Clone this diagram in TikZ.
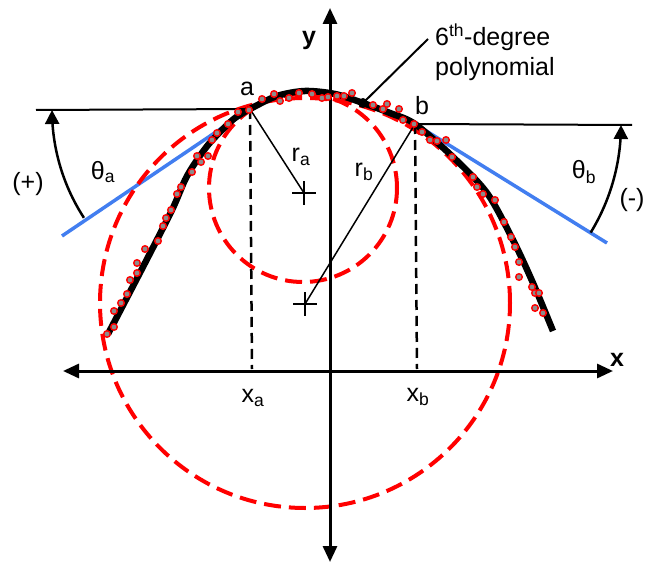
\documentclass[tikz,border=0pt]{standalone}
\usepackage{fontspec}
\setmainfont{Liberation Sans}
\usetikzlibrary{arrows.meta,calc}
\definecolor{tanblue}{RGB}{66,126,240}
\definecolor{ptgray}{RGB}{140,140,140}
\begin{document}
\begin{tikzpicture}[x=1pt,y=-1pt,
  lbl/.style={font=\fontsize{25}{30}\selectfont, inner sep=0pt},
  axisline/.style={line width=3pt, {Triangle[length=16pt,width=14pt]}-{Triangle[length=16pt,width=14pt]}},
  anglearc/.style={line width=2.5pt, -{Triangle[length=14pt,width=14pt]}},
  refline/.style={line width=2pt},
  dropline/.style={line width=2.5pt, dash pattern=on 10pt off 6pt},
  fitcircle/.style={draw=red, line width=4pt, dash pattern=on 17pt off 8pt},
  tangent/.style={draw=tanblue, line width=3.5pt},
  radline/.style={line width=1.5pt},
  crossmark/.style={line width=2.5pt},
  polycurve/.style={line width=6.5pt},
  datapt/.style={draw=red, fill=ptgray, line width=1.4pt}]
\useasboundingbox (0,0) rectangle (656,567);

% key coordinates
\coordinate (A) at (250,109);
\coordinate (B) at (415,124);
\coordinate (CA) at (304,193);
\coordinate (CB) at (305,304);
\coordinate (AL) at (36,110);
\coordinate (BR) at (632,125);
\coordinate (TA) at (62,236);
\coordinate (TB) at (607,243);
\coordinate (XA) at (252,369);
\coordinate (XB) at (417,369);
\coordinate (XL) at (63,371);
\coordinate (XR) at (613,371);
\coordinate (YT) at (330,8);
\coordinate (YB) at (330,562);

% tangents
\draw[tangent] (TA) -- (A);
\draw[tangent] (B) -- (TB);

% fitted circles
\draw[fitcircle] (303,188) circle (94pt);
\draw[fitcircle] (305,303) circle (205pt);

% axes
\draw[axisline] (XL) -- (XR);
\draw[axisline] (YB) -- (YT);

% reference lines
\draw[refline] (AL) -- (A);
\draw[refline] (B) -- (BR);
\draw[dropline] (A) -- (XA);
\draw[dropline] (B) -- (XB);

% angle arcs
\draw[anglearc] plot[domain=147:180, samples=30] ({250+198*cos(\x)},{110+198*sin(\x)});
\draw[anglearc] plot[domain=31.5:0, samples=30] ({415+206*cos(\x)},{125+206*sin(\x)});

% radius lines and centres
\draw[radline] (A) -- (CA);
\draw[radline] (B) -- (CB);
\draw[crossmark] ($(CA)+(-12,0)$) -- ($(CA)+(12,0)$) ($(CA)+(0,-12)$) -- ($(CA)+(0,12)$);
\draw[crossmark] ($(CB)+(-12,0)$) -- ($(CB)+(12,0)$) ($(CB)+(0,-12)$) -- ($(CB)+(0,12)$);

% polynomial
\draw[polycurve] plot[smooth, tension=0.5] coordinates {(108,334) (145,263) (172,210) (185,180) (195,163) (208,145) (222,130) (235,118) (250,109) (277,96) (305,91) (335,94) (363,103) (390,113) (415,124) (453,157) (487,193) (513,240) (533,283) (553,331)};

% data points
\foreach \p in {(107,334),(114,327),(114,311),(121,303),(127,294),(130,280),(137,273),(137,263),(145,249),(158,241),(163,226),(166,218),(171,210),(177,194),(181,187),(192,172),(197,156),(201,162),(208,156),(212,140),(217,133),(228,124),(238,112),(249,110),(262,99),(274,94),(280,101),(289,98),(299,93),(312,94),(322,98),(328,97),(337,96),(344,96),(352,93),(373,105),(383,109),(387,104),(399,109),(403,120),(414,124),(422,132),(430,140),(437,141),(446,140),(452,157),(473,177),(477,187),(483,194),(495,200),(504,222),(511,237),(515,247),(519,262),(519,277),(532,287),(535,293),(539,293),(535,308),(543,313)}
  \draw[datapt] \p circle (3.3pt);

% leader to polynomial
\coordinate (LD) at (428,39);
\fill (363,103) circle (5pt) coordinate (PD);
\draw[refline] (PD) -- (LD);

% labels
\node[lbl, anchor=base west] (t6) at (435,46) {6\textsuperscript{th}-degree};
\node[lbl, anchor=base west] (tp) at (435,76) {polynomial};
\node[lbl] (la) at (247,89) {a};
\node[lbl] (lb) at (422,106) {b};
\node[lbl] (lra) at (301,157) {r\textsubscript{a}};
\node[lbl] (lrb) at (364,172) {r\textsubscript{b}};
\node[lbl] (lta) at (103,172) {θ\textsubscript{a}};
\node[lbl] (ltb) at (584,172) {θ\textsubscript{b}};
\node[lbl] (lplus) at (28,184) {(+)};
\node[lbl] (lminus) at (632,200) {(-)};
\node[lbl] (lxa) at (253,398) {x\textsubscript{a}};
\node[lbl] (lxb) at (418,397) {x\textsubscript{b}};
\node[lbl, font=\fontsize{25}{30}\selectfont\bfseries] (ly) at (309,40) {y};
\node[lbl, font=\fontsize{25}{30}\selectfont\bfseries] (lx) at (617,360) {x};
\end{tikzpicture}
\end{document}
